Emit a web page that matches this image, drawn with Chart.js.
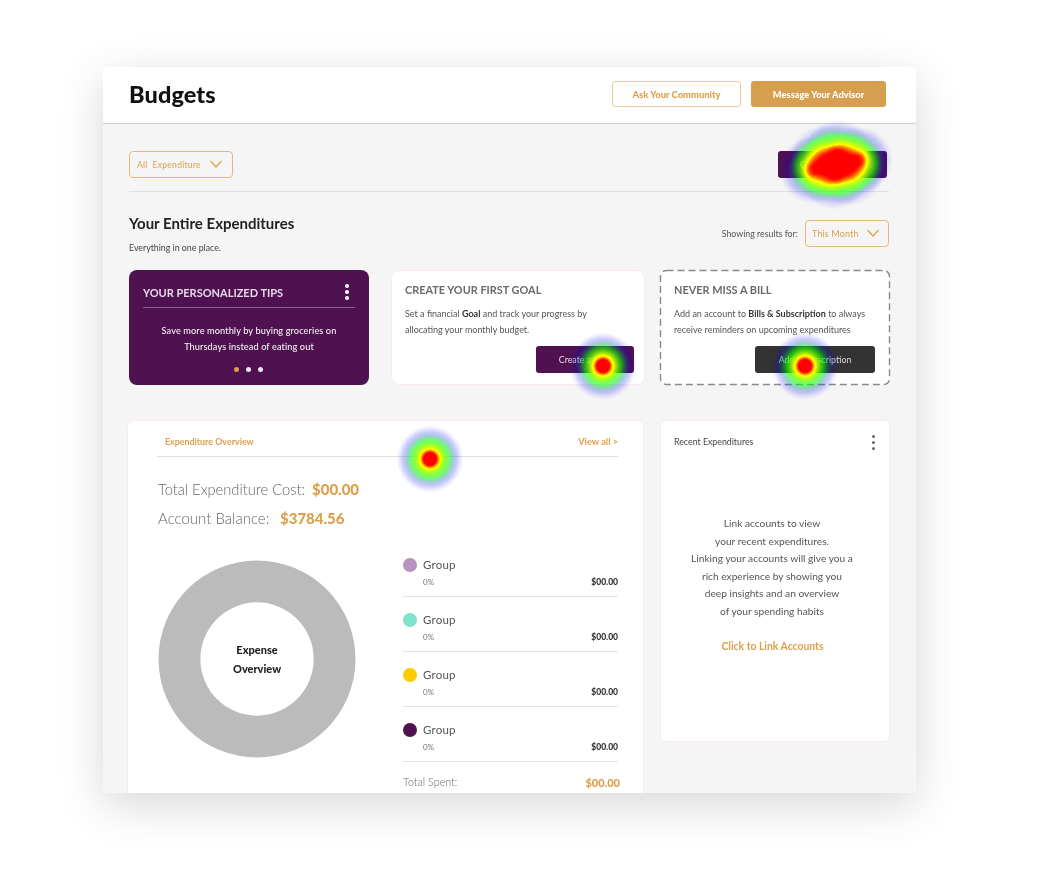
<!DOCTYPE html>
<html><head><meta charset="utf-8">
<script src="https://cdn.jsdelivr.net/npm/chart.js@4"></script>
<style>
html,body{margin:0;padding:0;background:#fff;width:1045px;height:871px;overflow:hidden;font-family:Lato,"Open Sans",sans-serif;}
#page{position:absolute;left:103px;top:67px;width:813px;height:726px;background:#f5f5f5;border-radius:3px;overflow:hidden;box-shadow:0 12px 45px rgba(0,0,0,.16);}
#head{position:absolute;left:0;top:0;width:813px;height:56px;background:#fff;border-bottom:1.5px solid #cfcfcf;}
#stage{position:absolute;left:0;top:0;width:1045px;height:871px;filter:blur(.45px);clip-path:polygon(0 0,1045px 0,1045px 793px,0 793px);}
.b{position:absolute;box-sizing:border-box;}
.t{position:absolute;white-space:nowrap;transform:translateY(-50%);line-height:1;}
.c{transform:translate(-50%,-50%);}
.r{transform:translate(-100%,-50%);}
.card{background:#fff;border:1px solid #fbe9ed;border-radius:6px;}
canvas{display:block;}
</style></head><body>
<div id="page"><div id="head"></div></div>
<div id="stage"></div>
<div id="ring" style="position:absolute;left:153px;top:555px;width:208px;height:208px;"><canvas id="donut" width="208" height="208"></canvas></div>
<div id="ov" style="position:absolute;left:0;top:0;width:1045px;height:871px;pointer-events:none;"><canvas id="heat" width="1045" height="871"></canvas></div>
<script>
const groupLabels=['Group','Group','Group','Group'];
const groupValues=[0,0,0,0];
const groupPercents=['0%','0%','0%','0%'];
const groupAmounts=['$00.00','$00.00','$00.00','$00.00'];
const groupColors=['#b893bf','#7fe3cb','#fdcc03','#4f1150'];
const emptyRingLabel='No expenses';
const emptyRingValue=[100];
const emptyRingColor='#bbbbbb';
const heatX=[603,805,430,813,859,838,834,824,850];
const heatY=[366,366,459,170,160,153,176,158,172];
const heatW=[1,1,1,.8,.8,.7,.7,.6,.6];

const S=document.getElementById('stage');
const O='#dd9f4c',P='#4f1150';
function box(x0,y0,x1,y1,css,cls){const d=document.createElement('div');d.className='b '+(cls||'');d.style.cssText=`left:${x0}px;top:${y0}px;width:${x1-x0}px;height:${y1-y0}px;`+(css||'');S.appendChild(d);return d;}
function txt(x,y,s,css,cls,html){const d=document.createElement('div');d.className='t '+(cls||'');d.style.cssText=`left:${x}px;top:${y}px;`+(css||'');if(html)d.innerHTML=s;else d.textContent=s;S.appendChild(d);return d;}
function chev(x,y,col){const n='http://www.w3.org/2000/svg',v=document.createElementNS(n,'svg');v.setAttribute('width','14');v.setAttribute('height','9');v.style.cssText=`position:absolute;left:${x}px;top:${y}px`;const p=document.createElementNS(n,'path');p.setAttribute('d','M1.5 1 L7 7 L12.5 1');p.setAttribute('fill','none');p.setAttribute('stroke',col);p.setAttribute('stroke-width','1.2');v.appendChild(p);S.appendChild(v);}
function dots(x,y,col,r){[-6,0,6].forEach(o=>box(x-r,y+o-r,x+r,y+o+r,`background:${col};border-radius:50%;`));}
function dashed(x0,y0,x1,y1){const n='http://www.w3.org/2000/svg',v=document.createElementNS(n,'svg');v.setAttribute('width',x1-x0+2);v.setAttribute('height',y1-y0+2);v.style.cssText=`position:absolute;left:${x0-1}px;top:${y0-1}px`;const r=document.createElementNS(n,'rect');r.setAttribute('x',1.5);r.setAttribute('y',1.5);r.setAttribute('width',x1-x0-1);r.setAttribute('height',y1-y0-1);r.setAttribute('rx',6);r.setAttribute('fill','#fff');r.setAttribute('stroke','#8a8a8a');r.setAttribute('stroke-width','1.4');r.setAttribute('stroke-dasharray','7 4');v.appendChild(r);S.appendChild(v);}

txt(129,95,'Budgets','font-size:23.5px;font-weight:900;color:#111;letter-spacing:.1px;');
box(612,81,741,107,`background:#fff;border:1px solid #eccb96;border-radius:3px;`);
txt(676.5,94.5,'Ask Your Community',`font-size:9.4px;font-weight:900;color:${O};`,'c');
box(751,81,886,107,`background:#d69e4f;border-radius:3px;`);
txt(818.5,94.5,'Message Your Advisor','font-size:9.3px;font-weight:900;color:#fff;','c');

box(129,151,233,178,'border:1px solid #e7b877;border-radius:4px;');
txt(137,164.5,'All&nbsp; Expenditure',`font-size:8.6px;color:${O};letter-spacing:.25px;`,'',true);
chev(209,160,O);
box(778,151,887,178,`background:${P};border-radius:3px;`);
txt(800,164.5,'C','font-size:8.5px;color:#fff;');
box(129,191,889,192,'background:#dedede;');

txt(129,222.5,'Your Entire Expenditures','font-size:15px;font-weight:700;color:#222;');
txt(129,248,'Everything in one place.','font-size:8.8px;color:#444;');
txt(798,234,'Showing results for:','font-size:8.8px;color:#555;','r');
box(805,220,889,247,'border:1px solid #e7b877;border-radius:4px;');
txt(812,233,'This Month',`font-size:9px;color:${O};letter-spacing:.15px;`);
chev(866,229,O);

box(129,270,369,385,`background:${P};border-radius:8px;`);
txt(143,292,'YOUR PERSONALIZED TIPS','font-size:11px;color:#e6d9e6;font-weight:700;');
box(143,306.5,355,307.5,'background:#8a5d8b;');
dots(347,292,'#f2f2f2',1.7);
txt(249,331,'Save more monthly by buying groceries on','font-size:9.2px;color:#f2f2f2;font-weight:500;letter-spacing:.1px;','c');
txt(249,346.5,'Thursdays instead of eating out','font-size:9.2px;color:#f2f2f2;font-weight:500;letter-spacing:.1px;','c');
box(233.5,366.5,238.5,371.5,`background:${O};border-radius:50%;`);
box(245.5,366.5,250.5,371.5,'background:#e8e8e8;border-radius:50%;');
box(257.5,366.5,262.5,371.5,'background:#e8e8e8;border-radius:50%;');

box(391,270,645,385,'border-radius:8px;','card');
txt(405,289.5,'CREATE YOUR FIRST GOAL','font-size:10.9px;font-weight:700;color:#6a6a6a;');
txt(405,313,'Set a financial <b style="color:#333">Goal</b> and track your progress by','font-size:9px;color:#555;','',true);
txt(405,328.5,'allocating your monthly budget.','font-size:9px;color:#555;');
box(536,346,634,373,`background:${P};border-radius:3px;`);
txt(585,360,'Create a Goal','font-size:8.8px;color:#e7dbe7;','c');

dashed(660,270,890,385);
txt(674,289.5,'NEVER MISS A BILL','font-size:10.9px;font-weight:700;color:#6a6a6a;');
txt(674,313,'Add an account to <b style="color:#333">Bills &amp; Subscription</b> to always','font-size:9px;color:#555;','',true);
txt(674,328.5,'receive reminders on upcoming expenditures','font-size:9px;color:#555;');
box(755,346,875,373,'background:#333;border-radius:3px;');
txt(815,360,'Add a Subscription','font-size:8.8px;color:#ddd;','c');

box(127,420,644,810,'border-radius:6px;','card');
txt(165,442,'Expenditure Overview',`font-size:8.9px;font-weight:700;color:${O};`);
txt(618,442,'View all >',`font-size:9.2px;font-weight:700;color:${O};`,'r');
box(157,456,618,457,'background:#dfdfdf;');
txt(158,488.5,'Total Expenditure Cost:','font-size:14.7px;font-weight:300;color:#666;');
txt(312,488.5,'$00.00',`font-size:15px;font-weight:900;color:${O};`);
txt(158,518,'Account Balance:','font-size:15px;font-weight:300;color:#666;');
txt(280,518,'$3784.56',`font-size:15px;font-weight:900;color:${O};`);
txt(257,649,'Expense','font-size:11px;font-weight:900;color:#222;','c');
txt(257,668,'Overview','font-size:11px;font-weight:900;color:#222;','c');

groupLabels.forEach((g,i)=>{
  const y=565+i*55;
  box(403,y-7,417,y+7,`background:${groupColors[i]};border-radius:50%;`);
  txt(423,y,g,'font-size:11.5px;color:#555;letter-spacing:.2px;');
  txt(423,y+17,groupPercents[i],'font-size:8px;color:#777;');
  txt(618,y+17,groupAmounts[i],'font-size:8.5px;font-weight:900;color:#333;','r');
  box(403,y+31,618,y+32,'background:#e2e2e2;');
});
txt(403,782,'Total Spent:','font-size:10.8px;font-weight:300;color:#666;');
txt(620,782,'$00.00',`font-size:11px;font-weight:900;color:${O};`,'r');

box(660,420,890,742,'border-radius:6px;','card');
txt(674,442,'Recent Expenditures','font-size:8.8px;color:#444;');
dots(873.5,442.5,'#666',1.5);
['Link accounts to view','your recent expenditures.','Linking your accounts will give you a','rich experience by showing you','deep insights and an overview','of your spending habits'].forEach((l,i)=>txt(772,[523,540.5,558,575.5,593,610.5][i],l,'font-size:10.2px;color:#555;','c'));
txt(772.5,646,'Click to Link Accounts',`font-size:10.4px;font-weight:700;color:${O};`,'c');

new Chart(document.getElementById('donut'),{
  type:'doughnut',
  data:{labels:[...groupLabels,emptyRingLabel],datasets:[{data:[...groupValues,...emptyRingValue],backgroundColor:[...groupColors,emptyRingColor],borderWidth:0}]},
  options:{responsive:false,animation:false,devicePixelRatio:1,cutout:'57.5%',radius:98.5,layout:{padding:0},plugins:{legend:{display:false},tooltip:{enabled:false}}}
});

const palette=(()=>{const c=document.createElement('canvas');c.width=256;c.height=1;const x=c.getContext('2d');const g=x.createLinearGradient(0,0,256,0);
  g.addColorStop(0,'rgb(0,0,255)');g.addColorStop(.22,'rgb(0,0,255)');g.addColorStop(.5,'rgb(0,255,0)');g.addColorStop(.8,'rgb(255,255,0)');g.addColorStop(.92,'rgb(255,0,0)');g.addColorStop(1,'rgb(255,0,0)');
  x.fillStyle=g;x.fillRect(0,0,256,1);return x.getImageData(0,0,256,1).data;})();
const heatPlugin={id:'heat',afterDatasetsDraw(chart){
  const W=chart.width,H=chart.height,R=34;
  const off=document.createElement('canvas');off.width=W;off.height=H;const o=off.getContext('2d');
  chart.getDatasetMeta(0).data.forEach((el,i)=>{
    const g=o.createRadialGradient(el.x,el.y,R*.12,el.x,el.y,R);
    g.addColorStop(0,'rgba(0,0,0,'+heatW[i]+')');g.addColorStop(1,'rgba(0,0,0,0)');
    o.fillStyle=g;o.beginPath();o.arc(el.x,el.y,R,0,Math.PI*2);o.fill();
  });
  const im=o.getImageData(0,0,W,H),d=im.data;
  for(let i=0;i<d.length;i+=4){const a=d[i+3];if(!a)continue;
    d[i]=palette[a*4];d[i+1]=palette[a*4+1];d[i+2]=palette[a*4+2];d[i+3]=Math.min(255,255*1.4*Math.pow(a/255,1.3));}
  o.putImageData(im,0,0);chart.ctx.drawImage(off,0,0);
}};
new Chart(document.getElementById('heat'),{
  type:'scatter',
  data:{datasets:[{data:heatX.map((x,i)=>({x,y:heatY[i]})),pointRadius:0}]},
  options:{responsive:false,animation:false,devicePixelRatio:1,layout:{padding:0},
    scales:{x:{type:'linear',min:0,max:1045,display:false},y:{type:'linear',min:0,max:871,reverse:true,display:false}},
    plugins:{legend:{display:false},tooltip:{enabled:false}}},
  plugins:[heatPlugin]
});
</script>
</body></html>
